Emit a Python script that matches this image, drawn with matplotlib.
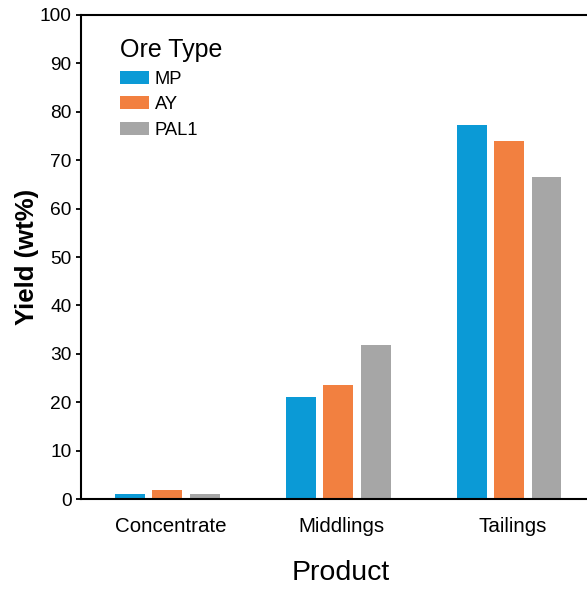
import matplotlib
matplotlib.use('Agg')

import matplotlib.pyplot as plt
import numpy as np

plt.rcParams['font.family'] = ['Liberation Sans', 'DejaVu Sans']

# data
products = ["Concentrate", "Middlings", "Tailings"]
ore_types = ["MP", "AY", "PAL1"]
mp = [1.0, 21.1, 77.3]
ay = [1.9, 23.6, 73.9]
pal1 = [1.0, 31.8, 66.5]
colors = ["#0b9ad6", "#f28040", "#a6a6a6"]

fig = plt.figure(figsize=(5.87, 5.90), dpi=100)
ax = fig.add_axes([0.1380, 0.1542, 0.8620, 0.8204])

x = np.arange(len(products))
width = 0.175
step = 0.219
for i, (vals, name, c) in enumerate(zip([mp, ay, pal1], ore_types, colors)):
    ax.bar(x + (i - 1) * step, vals, width, color=c, label=name)

ax.set_ylim(0, 100)
ax.set_yticks(np.arange(0, 101, 10))
ax.set_xlim(-0.505, 2.456)
ax.set_xticks(x + 0.02)
ax.set_xticklabels(products)

ax.spines['right'].set_visible(False)
for s in ['left', 'bottom', 'top']:
    ax.spines[s].set_linewidth(1.5)

ax.tick_params(axis='x', length=0, pad=13, labelsize=14.8)
ax.tick_params(axis='y', length=3.8, width=1.3, direction='out', labelsize=13.8, pad=3)

ax.set_ylabel("Yield (wt%)", fontsize=18.5, fontweight='bold', labelpad=0.5)
ax.set_xlabel("Product", fontsize=20.5, labelpad=17, x=0.513)

leg = ax.legend(title="Ore Type", loc='upper left', bbox_to_anchor=(0.045, 0.986),
                frameon=False, fontsize=13.2, title_fontsize=18,
                handlelength=1.55, handleheight=0.72, handletextpad=0.33,
                labelspacing=0.46, alignment='left')

fig.savefig("out.png", dpi=100)
